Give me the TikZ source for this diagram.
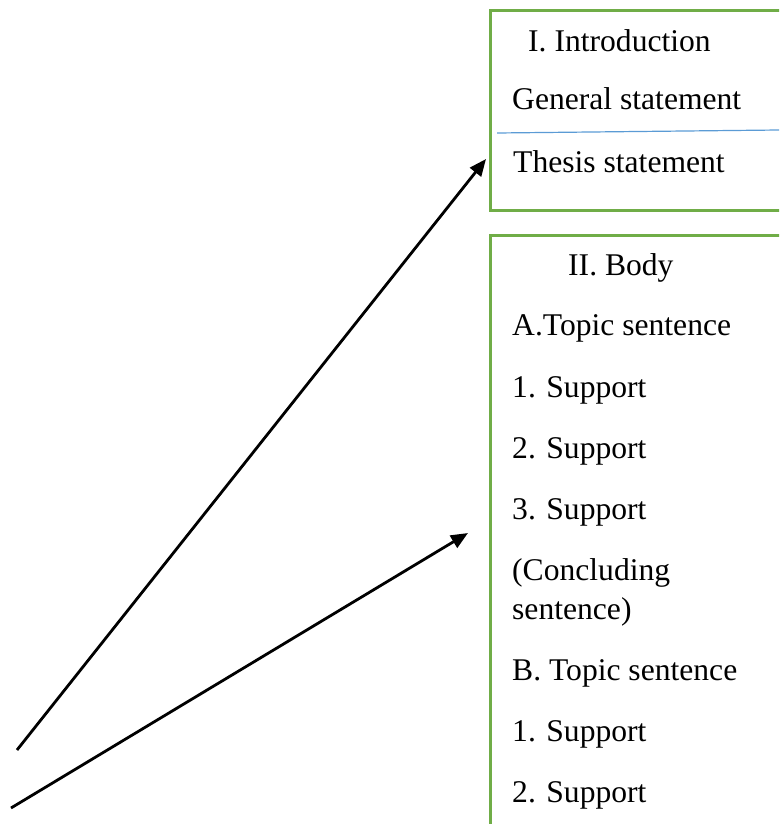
\documentclass[tikz,border=0pt]{standalone}
\usepackage{fontspec}
\setmainfont{Liberation Serif}
\usetikzlibrary{arrows.meta}

\definecolor{boxgreen}{HTML}{70AD47}
\definecolor{rulerblue}{HTML}{5B9BD5}

\begin{document}
\begin{tikzpicture}[x=1pt, y=-1pt]
    % --- Definitions ---
    \useasboundingbox (0,0) rectangle (779,824);
    \clip (0,0) rectangle (779,824);

    % Ends of the two pointers
    \coordinate (intro_start) at (17, 750);
    \coordinate (intro_tip) at (486, 159);
    \coordinate (body_start) at (11, 808);
    \coordinate (body_tip) at (468, 533);

    % --- Styles ---
    \tikzstyle{outline_box}=[draw=boxgreen, line width=3pt]
    \tikzstyle{split_line}=[draw=rulerblue, line width=1.2pt]
    \tikzstyle{outline_text}=[
        anchor=base west,
        inner sep=0pt,
        font=\fontsize{31.6}{38}\selectfont
    ]
    \tikzstyle{pointer_arrow}=[
        -{Triangle[length=17pt, width=14pt]},
        line width=2.8pt
    ]

    % --- 1. Introduction box ---
    \draw[outline_box] (490, 11) rectangle (800, 210);
    \node[outline_text] (intro_title) at (528, 52) {I. Introduction};
    \node[outline_text] (general_stmt) at (512, 110) {General statement};
    \draw[split_line] (497, 133) -- (779, 130);
    \node[outline_text] (thesis_stmt) at (513, 172) {Thesis statement};

    % --- 2. Body box ---
    \draw[outline_box] (490, 235) rectangle (800, 840);
    \node[outline_text] (body_title) at (568, 275) {II. Body};
    \node[outline_text] (topic_a) at (512, 335) {A.Topic sentence};
    \node[outline_text] (support_a1) at (512, 397) {1. Support};
    \node[outline_text] (support_a2) at (512, 458) {2. Support};
    \node[outline_text] (support_a3) at (512, 519) {3. Support};
    \node[outline_text] (concl_a1) at (512, 580) {(Concluding};
    \node[outline_text] (concl_a2) at (512, 619) {sentence)};
    \node[outline_text] (topic_b) at (512, 680) {B. Topic sentence};
    \node[outline_text] (support_b1) at (512, 741) {1. Support};
    \node[outline_text] (support_b2) at (512, 802) {2. Support};

    % --- 3. Pointers ---
    \draw[pointer_arrow] (intro_start) -- (intro_tip);
    \draw[pointer_arrow] (body_start) -- (body_tip);

\end{tikzpicture}
\end{document}
